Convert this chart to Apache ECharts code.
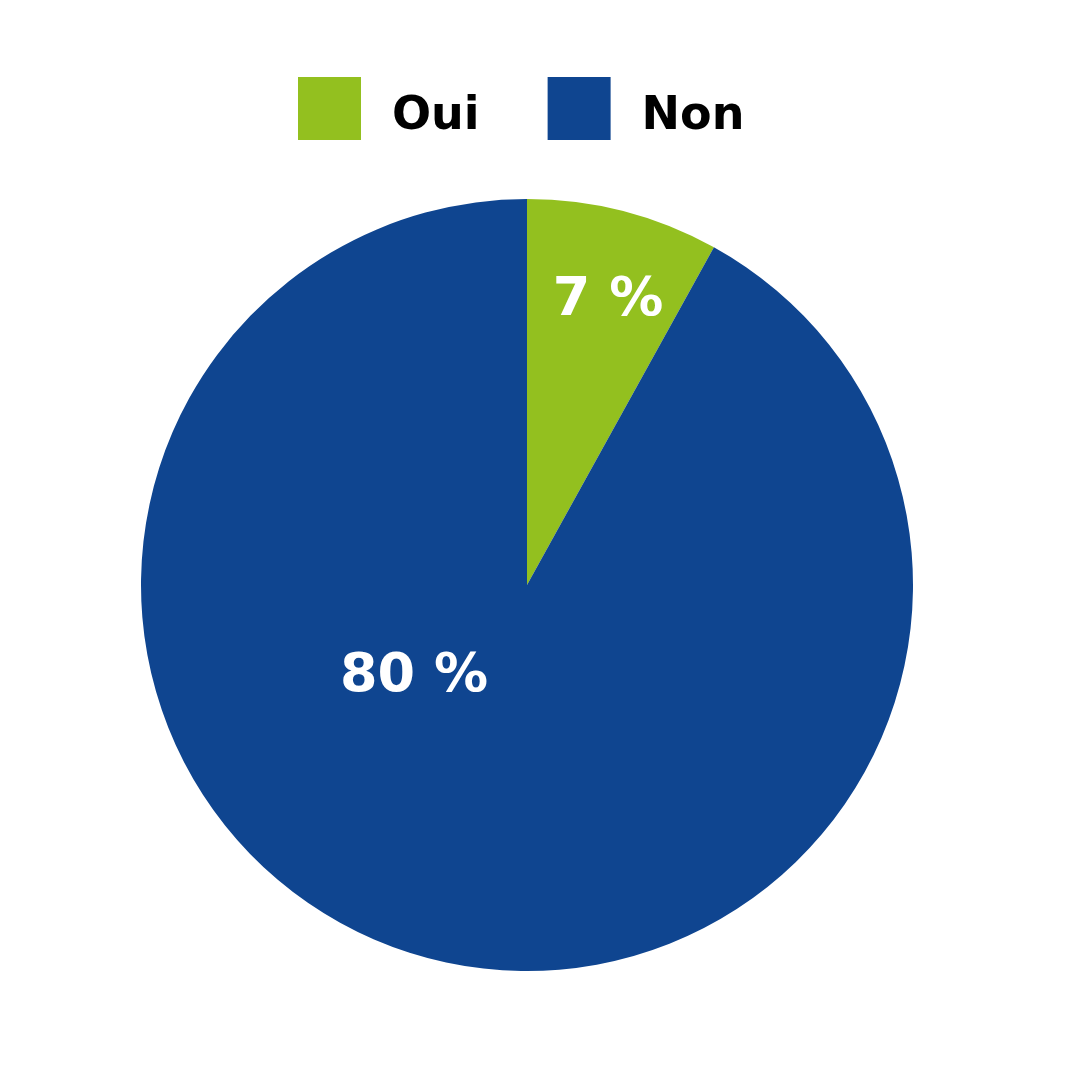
<!DOCTYPE html>
<html><head><meta charset="utf-8">
<script src="https://cdn.jsdelivr.net/npm/echarts@6/dist/echarts.min.js"></script>
<style>html,body{margin:0;padding:0;background:#fff}#c{width:1080px;height:1080px}</style>
</head><body><div id="c"></div>
<script>
const categories = ['Oui', 'Non'];
const values = [7, 80];
const colors = ['#93C01F', '#0F4590'];
const labelOffsets = [[32, -94], [-64, -98]];

const chart = echarts.init(document.getElementById('c'));
chart.setOption({
  backgroundColor: '#ffffff',
  animation: false,
  legend: {
    top: 72,
    left: 293,
    itemWidth: 63,
    itemHeight: 63,
    itemGap: 68,
    icon: 'rect',
    formatter: '{t|{name}}',
    textStyle: {
      padding: [0, 0, 0, 26],
      rich: {
        t: { fontFamily: 'DejaVu Sans', fontWeight: 'bold', fontSize: 46, color: '#000', padding: [18, 0, 0, 0] }
      }
    },
    data: categories
  },
  series: [{
    type: 'pie',
    center: [527, 585],
    radius: 386,
    startAngle: 90,
    clockwise: true,
    label: {
      show: true,
      position: 'inside',
      formatter: '{c} %',
      color: '#fff',
      fontFamily: 'DejaVu Sans',
      fontWeight: 'bold',
      fontSize: 54
    },
    labelLine: { show: false },
    emphasis: { disabled: true },
    data: categories.map((n, i) => ({
      name: n, value: values[i],
      itemStyle: { color: colors[i] },
      label: { offset: labelOffsets[i] }
    }))
  }]
});
</script></body></html>
